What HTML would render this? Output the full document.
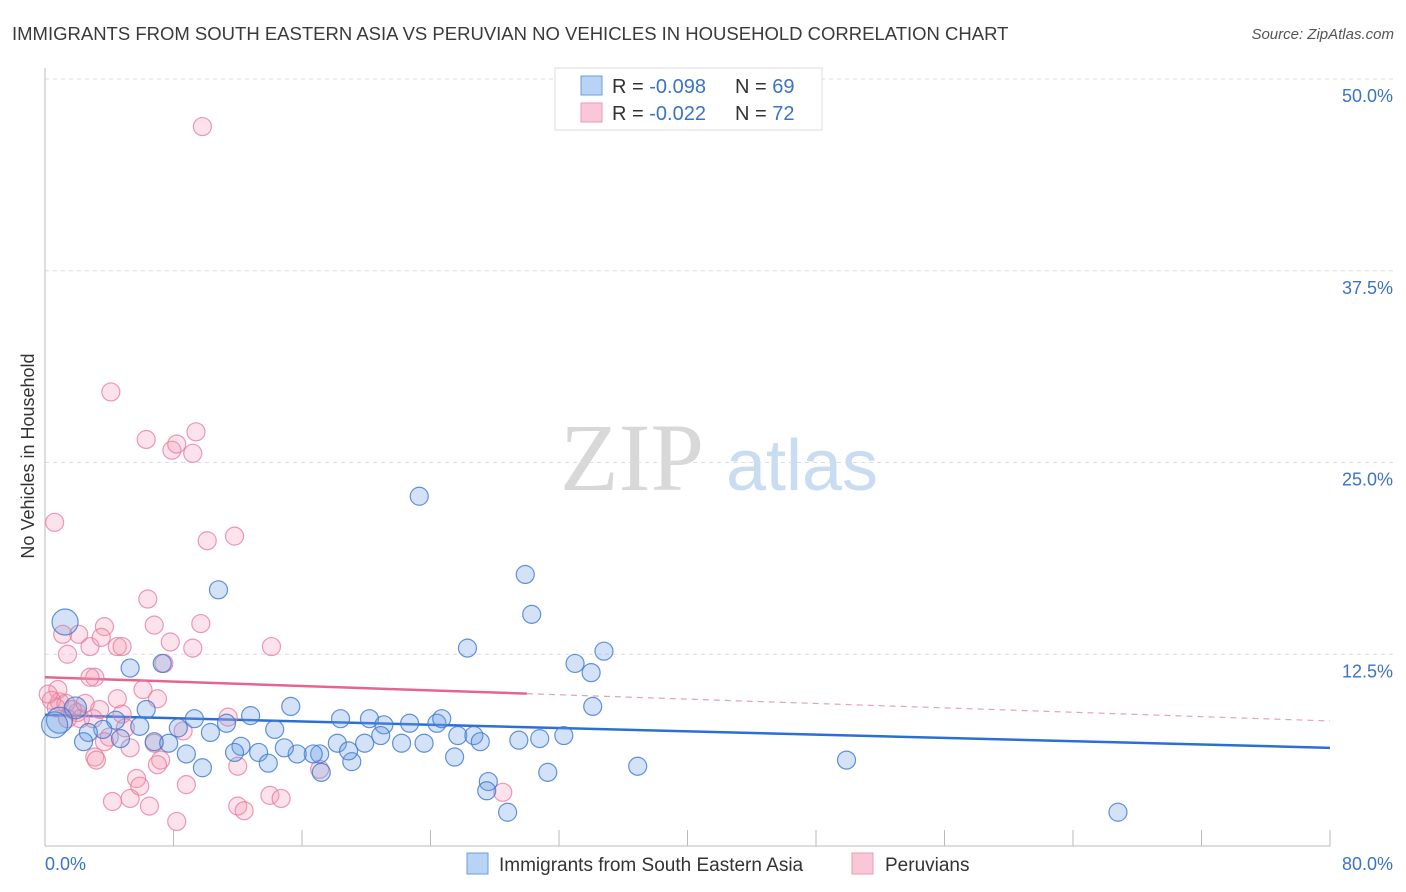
<!DOCTYPE html>
<html><head><meta charset="utf-8"><style>
body{margin:0;background:#fff;font-family:"Liberation Sans",sans-serif}
svg{display:block}
</style></head><body>
<svg id="chart" width="1406" height="892" xmlns="http://www.w3.org/2000/svg">
<text x="12" y="40" font-size="18.5" fill="#3a3a3a">IMMIGRANTS FROM SOUTH EASTERN ASIA VS PERUVIAN NO VEHICLES IN HOUSEHOLD CORRELATION CHART</text>
<text x="1394" y="39" font-size="15" fill="#555" text-anchor="end" font-style="italic">Source: ZipAtlas.com</text>
<g>
<text x="632" y="490" font-size="96" fill="#d8d8d8" text-anchor="middle" font-family="Liberation Serif,serif">ZIP</text>
<text x="802" y="490" font-size="72" fill="#c9dcf2" text-anchor="middle">atlas</text>
</g>
<g id="grid"></g>
<g id="axes"></g>
<g id="trends"></g>
<g id="points"></g>
<text transform="translate(34,456) rotate(-90)" font-size="18" fill="#333" text-anchor="middle">No Vehicles in Household</text>
<g>
<rect x="555" y="68" width="267" height="62" fill="#fff" stroke="#ddd"/>
<rect x="581" y="76" width="21" height="19" fill="#b9d3f5" stroke="#6a9ee0"/>
<rect x="581" y="103" width="21" height="19" fill="#fac7d6" stroke="#ee9ab5"/>
<text x="612" y="93" font-size="20" fill="#333">R = <tspan fill="#3a73c8">-0.098</tspan><tspan x="735">N = </tspan><tspan fill="#3a73c8">69</tspan></text>
<text x="612" y="120" font-size="20" fill="#333">R = <tspan fill="#3a73c8">-0.022</tspan><tspan x="735">N = </tspan><tspan fill="#3a73c8">72</tspan></text>
</g>
<g>
<rect x="467" y="853" width="21" height="21" fill="#b9d3f5" stroke="#6a9ee0"/>
<text x="499" y="871" font-size="19" fill="#333">Immigrants from South Eastern Asia</text>
<rect x="852" y="853" width="21" height="21" fill="#fac7d6" stroke="#ee9ab5"/>
<text x="885" y="871" font-size="19" fill="#333">Peruvians</text>
</g>
</svg>
<script>
const yTicks=[12.5,25,37.5,50];
const yTickLabels=["12.5%","25.0%","37.5%","50.0%"];
const xTicks=[0,8,16,24,32,40,48,56,64,72,80];
const xEndLabels=["0.0%","80.0%"];
const blueX=[1.25,5.3,7.3,10.8,23.3,29.9,30.3,26.3,33.0,34.0,34.8,34.1,15.3,12.8,9.3,6.3,8.3,11.3,14.3,18.4,20.2,21.1,22.7,24.4,24.7,25.7,26.7,29.5,30.8,32.3,27.1,22.2,23.6,20.9,19.9,18.2,17.1,16.7,15.7,14.9,13.3,12.2,11.8,10.3,8.8,9.8,13.9,17.2,19.1,18.9,25.5,31.3,36.9,49.9,27.6,27.5,28.8,66.8,6.8,7.7,5.9,4.4,3.6,2.7,1.9,0.9,0.6,2.4,4.7];
const blueY=[14.6,11.6,11.9,16.7,22.8,17.7,15.1,12.9,11.9,11.3,12.7,9.1,9.1,8.5,8.3,8.9,7.7,8.0,7.6,8.3,8.3,7.9,8.0,8.0,8.3,7.2,7.2,6.9,7.0,7.2,6.8,6.7,6.7,7.2,6.7,6.7,6.0,6.0,6.0,6.4,6.1,6.5,6.1,7.4,6.0,5.1,5.4,4.8,5.5,6.2,5.8,4.8,5.2,5.6,4.2,3.6,2.2,2.2,6.8,6.7,7.8,8.2,7.6,7.4,9.0,8.2,7.9,6.8,7.0];
const blueR=[13,9,9,9,9,9,9,9,9,9,9,9,9,9,9,9,9,9,9,9,9,9,9,9,9,9,9,9,9,9,9,9,9,9,9,9,9,9,9,9,9,9,9,9,9,9,9,9,9,9,9,9,9,9,9,9,9,9,9,9,9,9,9,9,11,13,13,9,9];
const pinkX=[9.8,4.1,6.3,7.9,8.2,9.4,9.2,0.6,10.1,11.8,6.4,6.8,9.7,3.7,2.1,1.1,1.4,2.8,3.5,4.5,4.8,7.8,14.1,7.4,3.1,2.8,0.8,6.1,7.0,0.9,4.5,0.4,2.0,4.8,3.4,5.0,4.0,2.2,5.3,3.1,3.2,6.8,7.2,7.0,8.8,12.0,5.7,5.9,4.2,5.3,6.5,8.2,12.0,12.4,14.0,14.7,17.1,28.5,9.2,1.3,1.7,1.4,0.7,2.5,3.7,3.0,0.2,11.4,8.6];
const pinkY=[46.9,29.6,26.5,25.8,26.2,27.0,25.6,21.1,19.9,20.2,16.1,14.4,14.5,14.3,13.8,13.8,12.5,13.0,13.6,13.0,13.0,13.3,13.0,11.9,11.0,11.0,10.2,10.2,9.6,9.4,9.6,9.5,8.7,8.6,8.9,7.7,7.1,8.3,6.4,5.8,5.6,6.7,5.6,5.3,4.0,5.2,4.4,3.9,2.9,3.1,2.6,1.6,2.6,2.3,3.3,3.1,5.0,3.5,12.9,9.3,8.9,8.3,9.0,9.3,6.8,8.3,9.9,8.4,7.5];
const blueTrend=[8.55,6.4];
const pinkTrend=[11.0,8.15];
const pinkSolidEnd=30;
const NS="http://www.w3.org/2000/svg";
const X=v=>45+v*(1285/80);
const Y=v=>846-v*(767/50);
function mk(tag,attrs,parent){const e=document.createElementNS(NS,tag);for(const k in attrs)e.setAttribute(k,attrs[k]);parent.appendChild(e);return e;}
const gridG=document.getElementById('grid'),axesG=document.getElementById('axes'),trG=document.getElementById('trends'),ptsG=document.getElementById('points');
yTicks.forEach((t,i)=>{
 const l=mk('line',{x1:45,x2:1395,y1:Y(t),y2:Y(t),stroke:'#ddd','stroke-dasharray':'4,4'},gridG);
 
 
 const tx=mk('text',{x:1393,y:Y(t)+23,'font-size':18,fill:'#3a73c8','text-anchor':'end'},gridG);
 tx.textContent=yTickLabels[i];
 
 
});
const topGrid=mk('line',{x1:45,x2:1395,y1:79,y2:79,stroke:'#ddd','stroke-dasharray':'4,4'},gridG);


const ya=mk('line',{x1:45,x2:45,y1:68,y2:846,stroke:'#bbb'},axesG);


const xa=mk('line',{x1:45,x2:1330,y1:846,y2:846,stroke:'#bbb'},axesG);


xTicks.forEach(t=>{
 const l=mk('line',{x1:X(t),x2:X(t),y1:830,y2:846,stroke:'#bbb'},axesG);
 
 
});
const xl0=mk('text',{x:45,y:870,'font-size':18,fill:'#3a73c8'},axesG);xl0.textContent=xEndLabels[0];


const xl1=mk('text',{x:1393,y:870,'font-size':18,fill:'#3a73c8','text-anchor':'end'},axesG);xl1.textContent=xEndLabels[1];


function draw(xs,ys,rs,fill,stroke,name){xs.forEach((x,i)=>{
 const c=mk('circle',{cx:X(x),cy:Y(ys[i]),r:rs?rs[i]:9,fill:fill,stroke:stroke,'stroke-width':1.2},ptsG);
 
 
});}
draw(pinkX,pinkY,null,'rgba(243,150,180,0.28)','rgba(232,120,155,0.75)','peruvian-point');
draw(blueX,blueY,blueR,'rgba(110,160,230,0.3)','rgba(60,120,210,0.8)','sea-point');
const bt=mk('line',{x1:X(0),y1:Y(blueTrend[0]),x2:X(80),y2:Y(blueTrend[1]),stroke:'#2a6fd6','stroke-width':2.5},trG);


const py=x=>pinkTrend[0]+(pinkTrend[1]-pinkTrend[0])*x/80;
const pt=mk('line',{x1:X(0),y1:Y(py(0)),x2:X(pinkSolidEnd),y2:Y(py(pinkSolidEnd)),stroke:'#e8648f','stroke-width':2.5},trG);


const pd=mk('line',{x1:X(pinkSolidEnd),y1:Y(py(pinkSolidEnd)),x2:X(80),y2:Y(py(80)),stroke:'#e8a0b8','stroke-width':1.2,'stroke-dasharray':'6,5'},trG);


</script>
</body></html>
